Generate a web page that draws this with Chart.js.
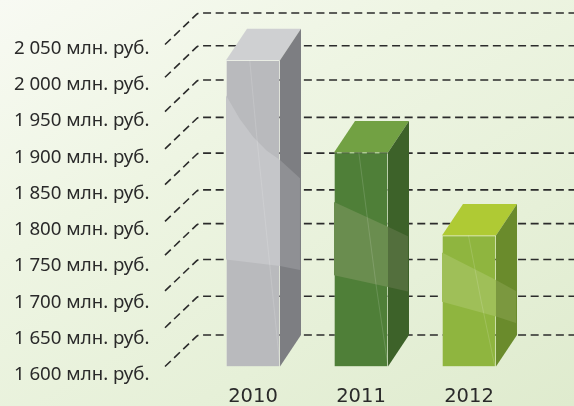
<!DOCTYPE html>
<html>
<head>
<meta charset="utf-8">
<script src="https://cdn.jsdelivr.net/npm/chart.js@4"></script>
<style>
  html, body { margin: 0; padding: 0; }
  body { width: 574px; height: 406px; overflow: hidden; background: linear-gradient(150deg, #f8faf3 0%, #eef5e3 35%, #e6f0d8 70%, #dfebce 100%); }
  canvas { display: block; }
</style>
</head>
<body>
<canvas id="grafico" width="574" height="406"></canvas>
<script>
const years = ["2010", "2011", "2012"];
const values = [2028, 1899, 1783];
const tickLabels = ["1 600 млн. руб.", "1 650 млн. руб.", "1 700 млн. руб.", "1 750 млн. руб.", "1 800 млн. руб.",
    "1 850 млн. руб.", "1 900 млн. руб.", "1 950 млн. руб.", "2 000 млн. руб.", "2 050 млн. руб."];

const frontColors = ["#b9babd", "#4f7f38", "#8fb53f"];
const sideColors = ["#7d7e82", "#3d6229", "#6a8b2c"];
const topColors = ["#cfd0d2", "#72a143", "#afca34"];
const bandFront = ["#c5c6c9", "#6a8d4f", "#9fbf58"];
const bandSide = ["#8f9094", "#536f3d", "#7b983f"];

// glass band of each bar, as shares of the bar height from its top
const bandUpper = [
    [[0, .114], [.25, .19], [.5, .25], [.75, .295], [1, .326], [1.37, .385]],
    [[0, .231], [1, .347], [1.37, .391]],
    [[0, .13], [1, .339], [1.37, .423]]
];
const bandLower = [
    [[0, .651], [1, .672], [1.37, .685]],
    [[0, .573], [1, .628], [1.37, .65]],
    [[0, .505], [1, .619], [1.37, .667]]
];
const glints = [
    [[.44, 0], [.57, .25], [1, 1]],
    [[.46, 0], [.63, .33], [.78, .62], [1, 1]],
    [[.49, 0], [.72, .49], [.98, 1]]
];

const depthX = 21, depthY = 31.5;
// the dashed lines in the picture are not quite evenly spaced
const gridNudge = [0, -3, -4, -4, -2, -3, -3, -4.5, -3, 0];

const grid3d = {
    id: "grid3d",
    beforeDatasetsDraw(chart) {
        const { ctx, chartArea, scales } = chart;
        ctx.save();
        ctx.strokeStyle = "#2b2b2b";
        ctx.lineWidth = 1.6;
        ctx.setLineDash([8, 4.6]);
        scales.y.ticks.forEach((t, i) => {
            const y = scales.y.getPixelForValue(t.value) + gridNudge[i];
            ctx.beginPath();
            ctx.moveTo(chartArea.left - 34, y);
            ctx.arcTo(chartArea.left - 1, y - depthY, chart.width, y - depthY, 5);
            ctx.lineTo(chart.width, y - depthY);
            ctx.stroke();
        });
        ctx.restore();
    }
};

function fillPoly(ctx, points, color) {
    ctx.fillStyle = color;
    ctx.beginPath();
    points.forEach((p, i) => i ? ctx.lineTo(p[0], p[1]) : ctx.moveTo(p[0], p[1]));
    ctx.closePath();
    ctx.fill();
}

const bar3d = {
    id: "bar3d",
    afterDatasetsDraw(chart) {
        const { ctx } = chart;
        chart.getDatasetMeta(0).data.forEach((bar, i) => {
            const w = bar.width, h = bar.base - bar.y;
            const l = bar.x - w / 2, r = bar.x + w / 2, t = bar.y, b = bar.base;

            fillPoly(ctx, [[l, t], [l + depthX, t - depthY], [r + depthX, t - depthY], [r, t]], topColors[i]);
            fillPoly(ctx, [[r, t], [r + depthX, t - depthY], [r + depthX, b - depthY], [r, b]], sideColors[i]);

            const at = p => [l + p[0] * w, t + p[1] * h];
            const upper = bandUpper[i].map(at), lower = bandLower[i].map(at);
            // front part of the band, then the part that runs over the side
            fillPoly(ctx, upper.slice(0, -1).concat(lower.slice(0, -1).reverse()), bandFront[i]);
            fillPoly(ctx, [upper[upper.length - 2], upper[upper.length - 1], lower[lower.length - 1], lower[lower.length - 2]], bandSide[i]);

            ctx.save();
            ctx.strokeStyle = "rgba(255,255,255,0.14)";
            ctx.lineWidth = 1;
            ctx.beginPath();
            glints[i].map(at).forEach((p, k) => k ? ctx.lineTo(p[0], p[1]) : ctx.moveTo(p[0], p[1]));
            ctx.stroke();
            ctx.restore();
        });
    }
};

new Chart(document.getElementById("grafico"), {
    type: "bar",
    data: {
        labels: years,
        datasets: [{
            data: values,
            base: 1600,
            backgroundColor: frontColors,
            borderColor: "rgba(255,255,255,0.18)",
            borderWidth: 1,
            barThickness: 54
        }]
    },
    options: {
        responsive: false,
        animation: false,
        layout: { autoPadding: false, padding: { top: 44.5, right: 51, left: 0, bottom: 0 } },
        plugins: { legend: { display: false }, tooltip: { enabled: false } },
        scales: {
            x: {
                afterFit: scale => { scale.height = 39.5; scale.paddingLeft = 0; scale.paddingRight = 0; },
                grid: { display: false },
                border: { display: false },
                ticks: { color: "#2a2a2a", padding: 11, maxRotation: 0, font: { family: "DejaVu Sans", size: 19.5 } }
            },
            y: {
                min: 1600,
                max: 2050,
                afterFit: scale => { scale.width = 199; scale.paddingTop = 0; scale.paddingBottom = 0; },
                grid: { display: false, drawTicks: false },
                border: { display: false },
                ticks: {
                    stepSize: 50,
                    autoSkip: false,
                    padding: 49.5,
                    color: "#2a2a2a",
                    // labels sit a bit below their grid line, less so higher up the axis
                    font: ctx => ({ family: "Noto Sans", size: 18.7, lineHeight: (17 - ctx.index * 1.04) + "px" }),
                    callback: (value, index) => ["", tickLabels[index]]
                }
            }
        }
    },
    plugins: [grid3d, bar3d]
});
</script>
</body>
</html>
